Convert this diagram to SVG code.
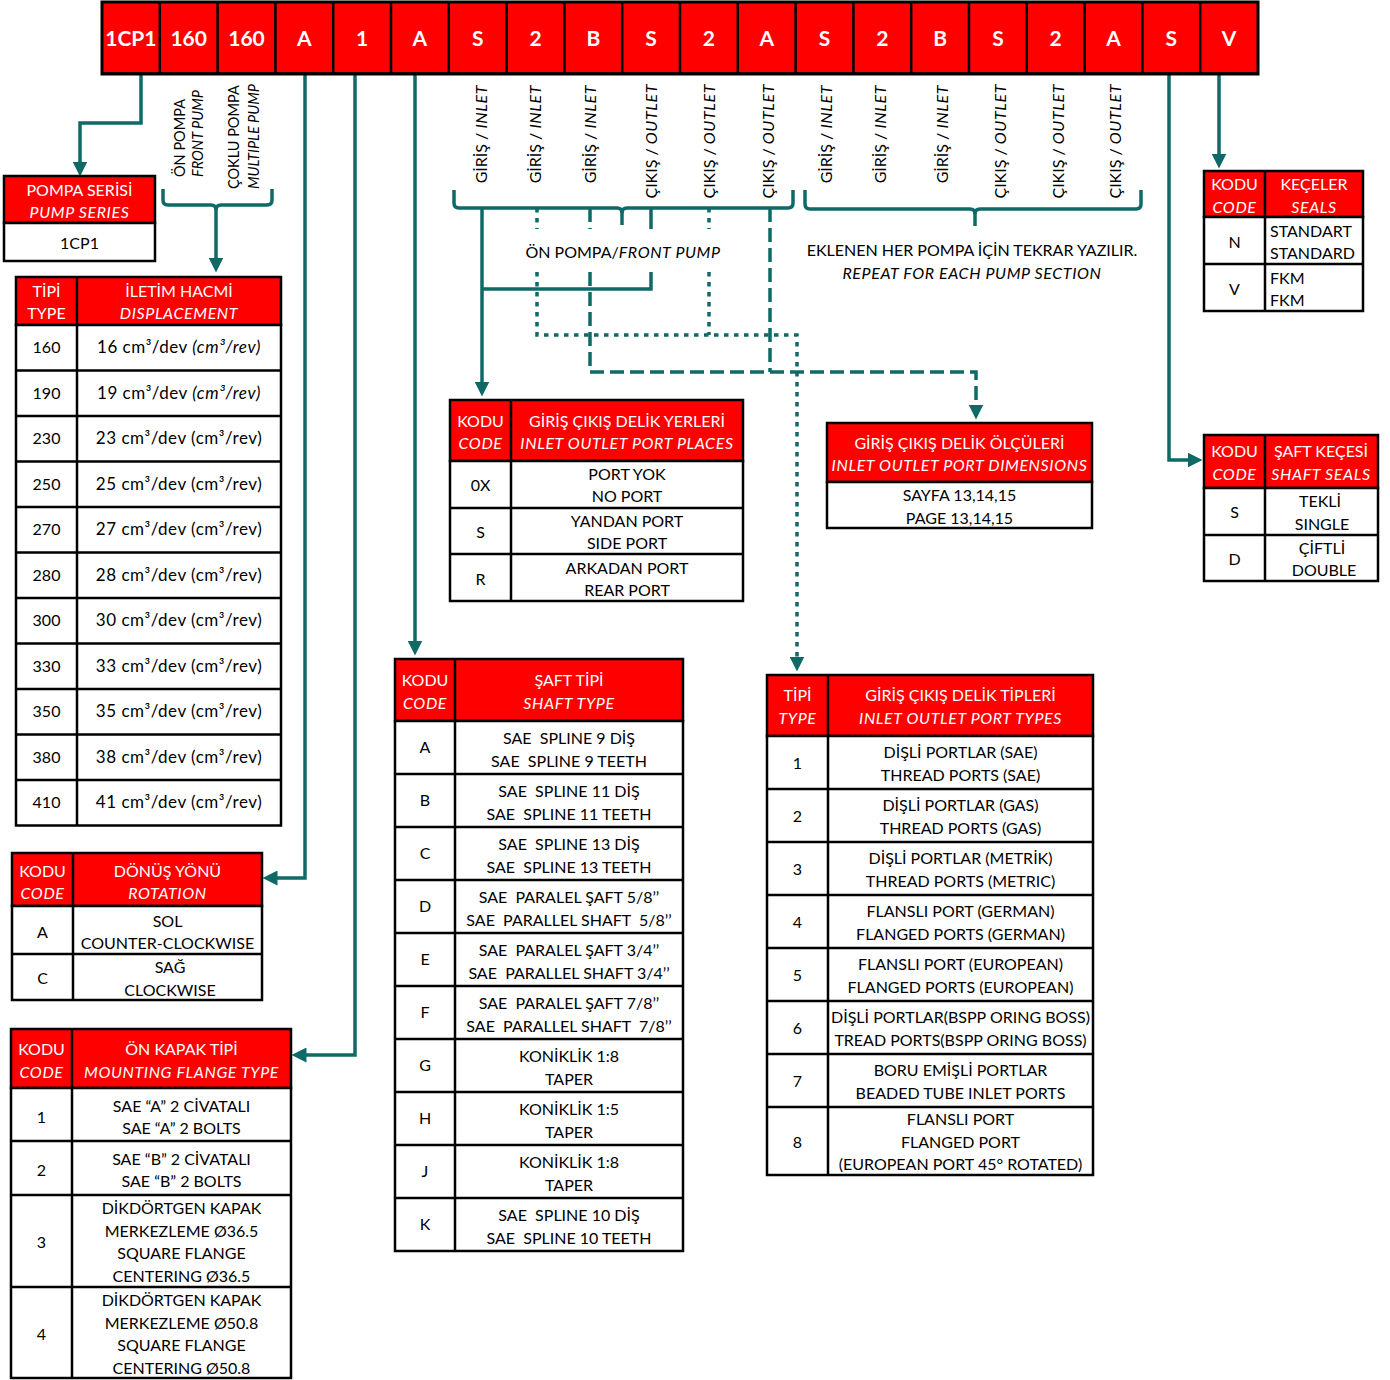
<svg xmlns="http://www.w3.org/2000/svg" width="1390" height="1380" viewBox="0 0 1390 1380">
<style>
.t{font-family:Lato,"Noto Sans","Liberation Sans",sans-serif;font-size:16px;text-anchor:middle;fill:#000}
.w{fill:#fff}
.i{font-style:italic;letter-spacing:0.6px}
.l{text-anchor:start}
.rs{font-size:14.5px;letter-spacing:0}
.bar{font-weight:bold;font-size:21px;fill:#fff}
.pre{white-space:pre}
.dsp{font-size:17px;letter-spacing:0.5px}
.hdr{fill:#ff0000;stroke:#000;stroke-width:2.5}
.bod{fill:#fff;stroke:#000;stroke-width:2.5}
.ln{fill:none;stroke:#000;stroke-width:2.5}
.c{fill:none;stroke:#0e6a66;stroke-width:3.5}
.dot{stroke-dasharray:4.5 5.5}
.dash{stroke-dasharray:14 6}
</style>
<defs>
<marker id="ah" viewBox="0 0 10 10" refX="7" refY="5" markerWidth="15" markerHeight="15" markerUnits="userSpaceOnUse" orient="auto">
<path d="M0,0L10,5L0,10z" fill="#0e6a66"/>
</marker>
</defs>
<rect width="1390" height="1380" fill="#fff"/>

<g id="connectors">
<path class="c" d="M141,74V123H80V172" marker-end="url(#ah)"/>
<path class="c" d="M163,189v11q0,5 5,5h43q5,0 5,5q0,-5 5,-5h46q5,0 5,-5v-11"/>
<path class="c" d="M216,205V268" marker-end="url(#ah)"/>
<path class="c" d="M454,190v13q0,5 5,5h158q5,0 5,5q0,-5 5,-5h161q5,0 5,-5v-13"/>
<path class="c" d="M622,208V225"/>
<path class="c" d="M805,190v14q0,5 5,5h160q5,0 5,5q0,-5 5,-5h156q5,0 5,-5v-14"/>
<path class="c" d="M975,209V226"/>
<path class="c" d="M482,208V392" marker-end="url(#ah)"/>
<path class="c" d="M651,208V229M651,272V289H482"/>
<path class="c dot" d="M537,208V229M709,208V229M709,272V335"/>
<path class="c dot" d="M537,272V335H797V667" marker-end="url(#ah)"/>
<path class="c dash" d="M590,208V229M770,208V372"/>
<path class="c dash" d="M590,272V372H976V415" marker-end="url(#ah)"/>
<path class="c" d="M305,74V878H267" marker-end="url(#ah)"/>
<path class="c" d="M355,74V1055H296" marker-end="url(#ah)"/>
<path class="c" d="M415,74V651" marker-end="url(#ah)"/>
<path class="c" d="M1169,74V460H1198" marker-end="url(#ah)"/>
<path class="c" d="M1219,74V164" marker-end="url(#ah)"/>
</g>

<g id="code-bar">
<rect x="102" y="2" width="1156" height="72" fill="#ff0000" stroke="#000" stroke-width="3"/>
<path class="ln" stroke-width="3" d="M159.8,2V74M217.6,2V74M275.4,2V74M333.2,2V74M391,2V74M448.8,2V74M506.6,2V74M564.4,2V74M622.2,2V74M680,2V74M737.8,2V74M795.6,2V74M853.4,2V74M911.2,2V74M969,2V74M1026.8,2V74M1084.6,2V74M1142.4,2V74M1200.2,2V74"/>
<path class="ln" stroke-width="4" d="M101,73.5H1259"/>
<text class="t bar" x="130.9" y="46">1CP1</text>
<text class="t bar" x="188.7" y="46">160</text>
<text class="t bar" x="246.5" y="46">160</text>
<text class="t bar" x="304.3" y="46">A</text>
<text class="t bar" x="362.1" y="46">1</text>
<text class="t bar" x="419.9" y="46">A</text>
<text class="t bar" x="477.7" y="46">S</text>
<text class="t bar" x="535.5" y="46">2</text>
<text class="t bar" x="593.3" y="46">B</text>
<text class="t bar" x="651.1" y="46">S</text>
<text class="t bar" x="708.9" y="46">2</text>
<text class="t bar" x="766.7" y="46">A</text>
<text class="t bar" x="824.5" y="46">S</text>
<text class="t bar" x="882.3" y="46">2</text>
<text class="t bar" x="940.1" y="46">B</text>
<text class="t bar" x="997.9" y="46">S</text>
<text class="t bar" x="1055.7" y="46">2</text>
<text class="t bar" x="1113.5" y="46">A</text>
<text class="t bar" x="1171.3" y="46">S</text>
<text class="t bar" x="1229.1" y="46">V</text>
</g>

<g id="bar-labels">
<text class="t l rs" transform="translate(185,177) rotate(-90)">ÖN POMPA</text>
<text class="t l i rs" transform="translate(203,177) rotate(-90)">FRONT PUMP</text>
<text class="t l rs" transform="translate(239,189) rotate(-90)">ÇOKLU POMPA</text>
<text class="t l i rs" transform="translate(259,189) rotate(-90)">MULTIPLE PUMP</text>
<text class="t" style="text-anchor:end" transform="translate(487,85) rotate(-90)">GİRİŞ / <tspan class="i">INLET</tspan></text>
<text class="t" style="text-anchor:end" transform="translate(541,85) rotate(-90)">GİRİŞ / <tspan class="i">INLET</tspan></text>
<text class="t" style="text-anchor:end" transform="translate(596,85) rotate(-90)">GİRİŞ / <tspan class="i">INLET</tspan></text>
<text class="t" style="text-anchor:end" transform="translate(657,84) rotate(-90)">ÇIKIŞ / <tspan class="i">OUTLET</tspan></text>
<text class="t" style="text-anchor:end" transform="translate(715,84) rotate(-90)">ÇIKIŞ / <tspan class="i">OUTLET</tspan></text>
<text class="t" style="text-anchor:end" transform="translate(774,84) rotate(-90)">ÇIKIŞ / <tspan class="i">OUTLET</tspan></text>
<text class="t" style="text-anchor:end" transform="translate(832,85) rotate(-90)">GİRİŞ / <tspan class="i">INLET</tspan></text>
<text class="t" style="text-anchor:end" transform="translate(886,85) rotate(-90)">GİRİŞ / <tspan class="i">INLET</tspan></text>
<text class="t" style="text-anchor:end" transform="translate(948,85) rotate(-90)">GİRİŞ / <tspan class="i">INLET</tspan></text>
<text class="t" style="text-anchor:end" transform="translate(1006,84) rotate(-90)">ÇIKIŞ / <tspan class="i">OUTLET</tspan></text>
<text class="t" style="text-anchor:end" transform="translate(1064,84) rotate(-90)">ÇIKIŞ / <tspan class="i">OUTLET</tspan></text>
<text class="t" style="text-anchor:end" transform="translate(1121,84) rotate(-90)">ÇIKIŞ / <tspan class="i">OUTLET</tspan></text>
<text class="t" x="623" y="257.5">ÖN POMPA/<tspan class="i">FRONT PUMP</tspan></text>
<text class="t" x="972" y="255.5">EKLENEN HER POMPA İÇİN TEKRAR YAZILIR.</text>
<text class="t i" x="972" y="278.5">REPEAT FOR EACH PUMP SECTION</text>
</g>

<g id="pump-series">
<rect class="hdr" x="4" y="176" width="151" height="47"/>
<rect class="bod" x="4" y="223" width="151" height="38"/>
<text class="t w" x="79.5" y="195.5">POMPA SERİSİ</text>
<text class="t w i" x="79.5" y="217.5">PUMP SERIES</text>
<text class="t" x="79.5" y="248.5">1CP1</text>
</g>

<g id="displacement">
<rect class="hdr" x="16" y="277" width="265" height="48"/>
<rect class="bod" x="16" y="325" width="265" height="500.5"/>
<path class="ln" d="M77,277V825.5M16,370.5H281M16,416H281M16,461.5H281M16,507H281M16,552.5H281M16,598H281M16,643.5H281M16,689H281M16,734.5H281M16,780H281"/>
<text class="t w" x="46.5" y="296.5">TİPİ</text>
<text class="t w" x="46.5" y="318.5">TYPE</text>
<text class="t w" x="179" y="296.5">İLETİM HACMİ</text>
<text class="t w i" x="179" y="318.5">DISPLACEMENT</text>
<text class="t" x="46.5" y="353.2">160</text><text class="t dsp" x="179" y="353.2">16 cm³/dev <tspan class="i">(cm³/rev)</tspan></text>
<text class="t" x="46.5" y="398.7">190</text><text class="t dsp" x="179" y="398.7">19 cm³/dev <tspan class="i">(cm³/rev)</tspan></text>
<text class="t" x="46.5" y="444.2">230</text><text class="t dsp" x="179" y="444.2">23 cm³/dev (cm³/rev)</text>
<text class="t" x="46.5" y="489.7">250</text><text class="t dsp" x="179" y="489.7">25 cm³/dev (cm³/rev)</text>
<text class="t" x="46.5" y="535.2">270</text><text class="t dsp" x="179" y="535.2">27 cm³/dev (cm³/rev)</text>
<text class="t" x="46.5" y="580.7">280</text><text class="t dsp" x="179" y="580.7">28 cm³/dev (cm³/rev)</text>
<text class="t" x="46.5" y="626.2">300</text><text class="t dsp" x="179" y="626.2">30 cm³/dev (cm³/rev)</text>
<text class="t" x="46.5" y="671.7">330</text><text class="t dsp" x="179" y="671.7">33 cm³/dev (cm³/rev)</text>
<text class="t" x="46.5" y="717.2">350</text><text class="t dsp" x="179" y="717.2">35 cm³/dev (cm³/rev)</text>
<text class="t" x="46.5" y="762.7">380</text><text class="t dsp" x="179" y="762.7">38 cm³/dev (cm³/rev)</text>
<text class="t" x="46.5" y="808.2">410</text><text class="t dsp" x="179" y="808.2">41 cm³/dev (cm³/rev)</text>
</g>

<g id="rotation">
<rect class="hdr" x="12" y="853" width="250" height="53"/>
<rect class="bod" x="12" y="906" width="250" height="94"/>
<path class="ln" d="M73,853V1000M12,954H262"/>
<text class="t w" x="42.5" y="876.5">KODU</text>
<text class="t w i" x="42.5" y="898.5">CODE</text>
<text class="t w" x="167.5" y="876.5">DÖNÜŞ YÖNÜ</text>
<text class="t w i" x="167.5" y="898.5">ROTATION</text>
<text class="t" x="42.5" y="937.5">A</text>
<text class="t" x="167.5" y="926.5">SOL</text>
<text class="t" x="167.5" y="948.5">COUNTER-CLOCKWISE</text>
<text class="t" x="42.5" y="983.5">C</text>
<text class="t" x="170" y="972.5">SAĞ</text>
<text class="t" x="170" y="995.5">CLOCKWISE</text>
</g>

<g id="mounting-flange">
<rect class="hdr" x="11" y="1029" width="280" height="59"/>
<rect class="bod" x="11" y="1088" width="280" height="290"/>
<path class="ln" d="M72,1029V1378M11,1141H291M11,1195H291M11,1287H291"/>
<text class="t w" x="41.5" y="1054.5">KODU</text>
<text class="t w i" x="41.5" y="1077.5">CODE</text>
<text class="t w" x="181.5" y="1054.5">ÖN KAPAK TİPİ</text>
<text class="t w i" x="181.5" y="1077.5">MOUNTING FLANGE TYPE</text>
<text class="t" x="41.5" y="1122.5">1</text>
<text class="t" x="181.5" y="1111.5">SAE “A” 2 CİVATALI</text>
<text class="t" x="181.5" y="1133.5">SAE “A” 2 BOLTS</text>
<text class="t" x="41.5" y="1175.5">2</text>
<text class="t" x="181.5" y="1164.5">SAE “B” 2 CİVATALI</text>
<text class="t" x="181.5" y="1186.5">SAE “B” 2 BOLTS</text>
<text class="t" x="41.5" y="1247.5">3</text>
<text class="t" x="181.5" y="1213.5">DİKDÖRTGEN KAPAK</text>
<text class="t" x="181.5" y="1236.5">MERKEZLEME Ø36.5</text>
<text class="t" x="181.5" y="1258.5">SQUARE FLANGE</text>
<text class="t" x="181.5" y="1281.5">CENTERING Ø36.5</text>
<text class="t" x="41.5" y="1339.5">4</text>
<text class="t" x="181.5" y="1305.5">DİKDÖRTGEN KAPAK</text>
<text class="t" x="181.5" y="1328.5">MERKEZLEME Ø50.8</text>
<text class="t" x="181.5" y="1350.5">SQUARE FLANGE</text>
<text class="t" x="181.5" y="1373.5">CENTERING Ø50.8</text>
</g>

<g id="shaft-type">
<rect class="hdr" x="395" y="659" width="288" height="62"/>
<rect class="bod" x="395" y="721" width="288" height="530"/>
<path class="ln" d="M455,659V1251M395,774H683M395,827H683M395,880H683M395,933H683M395,986H683M395,1039H683M395,1092H683M395,1145H683M395,1198H683"/>
<text class="t w" x="425" y="685.5">KODU</text>
<text class="t w i" x="425" y="708.5">CODE</text>
<text class="t w" x="569" y="685.5">ŞAFT TİPİ</text>
<text class="t w i" x="569" y="708.5">SHAFT TYPE</text>
<text class="t" x="425" y="753">A</text>
<text class="t pre" x="569" y="743.5">SAE  SPLINE 9 DİŞ</text>
<text class="t pre" x="569" y="766.5">SAE  SPLINE 9 TEETH</text>
<text class="t" x="425" y="806">B</text>
<text class="t pre" x="569" y="796.5">SAE  SPLINE 11 DİŞ</text>
<text class="t pre" x="569" y="819.5">SAE  SPLINE 11 TEETH</text>
<text class="t" x="425" y="859">C</text>
<text class="t pre" x="569" y="849.5">SAE  SPLINE 13 DİŞ</text>
<text class="t pre" x="569" y="872.5">SAE  SPLINE 13 TEETH</text>
<text class="t" x="425" y="912">D</text>
<text class="t pre" x="569" y="902.5">SAE  PARALEL ŞAFT 5/8’’</text>
<text class="t pre" x="569" y="925.5">SAE  PARALLEL SHAFT  5/8’’</text>
<text class="t" x="425" y="965">E</text>
<text class="t pre" x="569" y="955.5">SAE  PARALEL ŞAFT 3/4’’</text>
<text class="t pre" x="569" y="978.5">SAE  PARALLEL SHAFT 3/4’’</text>
<text class="t" x="425" y="1018">F</text>
<text class="t pre" x="569" y="1008.5">SAE  PARALEL ŞAFT 7/8’’</text>
<text class="t pre" x="569" y="1031.5">SAE  PARALLEL SHAFT  7/8’’</text>
<text class="t" x="425" y="1071">G</text>
<text class="t" x="569" y="1061.5">KONİKLİK 1:8</text>
<text class="t" x="569" y="1084.5">TAPER</text>
<text class="t" x="425" y="1124">H</text>
<text class="t" x="569" y="1114.5">KONİKLİK 1:5</text>
<text class="t" x="569" y="1137.5">TAPER</text>
<text class="t" x="425" y="1177">J</text>
<text class="t" x="569" y="1167.5">KONİKLİK 1:8</text>
<text class="t" x="569" y="1190.5">TAPER</text>
<text class="t" x="425" y="1230">K</text>
<text class="t pre" x="569" y="1220.5">SAE  SPLINE 10 DİŞ</text>
<text class="t pre" x="569" y="1243.5">SAE  SPLINE 10 TEETH</text>
</g>

<g id="port-places">
<rect class="hdr" x="450" y="400" width="293" height="61"/>
<rect class="bod" x="450" y="461" width="293" height="140"/>
<path class="ln" d="M511,400V601M450,508H743M450,554H743"/>
<text class="t w" x="480.5" y="426.5">KODU</text>
<text class="t w i" x="480.5" y="448.5">CODE</text>
<text class="t w" x="627" y="426.5">GİRİŞ ÇIKIŞ DELİK YERLERİ</text>
<text class="t w i" x="627" y="448.5">INLET OUTLET PORT PLACES</text>
<text class="t" x="480.5" y="490.5">0X</text>
<text class="t" x="627" y="479.5">PORT YOK</text>
<text class="t" x="627" y="501.5">NO PORT</text>
<text class="t" x="480.5" y="537.5">S</text>
<text class="t" x="627" y="526.5">YANDAN PORT</text>
<text class="t" x="627" y="548.5">SIDE PORT</text>
<text class="t" x="480.5" y="584.5">R</text>
<text class="t" x="627" y="573.5">ARKADAN PORT</text>
<text class="t" x="627" y="595.5">REAR PORT</text>
</g>

<g id="port-dimensions">
<rect class="hdr" x="827" y="423" width="265" height="59"/>
<rect class="bod" x="827" y="482" width="265" height="46"/>
<text class="t w" x="959.5" y="448.5">GİRİŞ ÇIKIŞ DELİK ÖLÇÜLERİ</text>
<text class="t w i" x="959.5" y="470.5">INLET OUTLET PORT DIMENSIONS</text>
<text class="t" x="959.5" y="500.5">SAYFA 13,14,15</text>
<text class="t" x="959.5" y="523.5">PAGE 13,14,15</text>
</g>

<g id="port-types">
<rect class="hdr" x="767" y="675" width="326" height="61"/>
<rect class="bod" x="767" y="736" width="326" height="439"/>
<path class="ln" d="M828,675V1175M767,789H1093M767,842H1093M767,895H1093M767,948H1093M767,1001H1093M767,1054H1093M767,1107H1093"/>
<text class="t w" x="797.5" y="700.5">TİPİ</text>
<text class="t w i" x="797.5" y="723.5">TYPE</text>
<text class="t w" x="960.5" y="700.5">GİRİŞ ÇIKIŞ DELİK TİPLERİ</text>
<text class="t w i" x="960.5" y="723.5">INLET OUTLET PORT TYPES</text>
<text class="t" x="797.5" y="768.5">1</text>
<text class="t" x="960.5" y="757.5">DİŞLİ PORTLAR (SAE)</text>
<text class="t" x="960.5" y="780.5">THREAD PORTS (SAE)</text>
<text class="t" x="797.5" y="821.5">2</text>
<text class="t" x="960.5" y="810.5">DİŞLİ PORTLAR (GAS)</text>
<text class="t" x="960.5" y="833.5">THREAD PORTS (GAS)</text>
<text class="t" x="797.5" y="874.5">3</text>
<text class="t" x="960.5" y="863.5">DİŞLİ PORTLAR (METRİK)</text>
<text class="t" x="960.5" y="886.5">THREAD PORTS (METRIC)</text>
<text class="t" x="797.5" y="927.5">4</text>
<text class="t" x="960.5" y="916.5">FLANSLI PORT (GERMAN)</text>
<text class="t" x="960.5" y="939.5">FLANGED PORTS (GERMAN)</text>
<text class="t" x="797.5" y="980.5">5</text>
<text class="t" x="960.5" y="969.5">FLANSLI PORT (EUROPEAN)</text>
<text class="t" x="960.5" y="992.5">FLANGED PORTS (EUROPEAN)</text>
<text class="t" x="797.5" y="1033.5">6</text>
<text class="t" x="960.5" y="1022.5">DİŞLİ PORTLAR(BSPP ORING BOSS)</text>
<text class="t" x="960.5" y="1045.5">TREAD PORTS(BSPP ORING BOSS)</text>
<text class="t" x="797.5" y="1086.5">7</text>
<text class="t" x="960.5" y="1075.5">BORU EMİŞLİ PORTLAR</text>
<text class="t" x="960.5" y="1098.5">BEADED TUBE INLET PORTS</text>
<text class="t" x="797.5" y="1147.5">8</text>
<text class="t" x="960.5" y="1124.5">FLANSLI PORT</text>
<text class="t" x="960.5" y="1147.5">FLANGED PORT</text>
<text class="t" x="960.5" y="1169.5">(EUROPEAN PORT 45° ROTATED)</text>
</g>

<g id="seals">
<rect class="hdr" x="1204" y="171" width="159" height="46"/>
<rect class="bod" x="1204" y="217" width="159" height="94"/>
<path class="ln" d="M1265,171V311M1204,264H1363"/>
<text class="t w" x="1234.5" y="189.5">KODU</text>
<text class="t w i" x="1234.5" y="212.5">CODE</text>
<text class="t w" x="1314" y="189.5">KEÇELER</text>
<text class="t w i" x="1314" y="212.5">SEALS</text>
<text class="t" x="1234.5" y="247.5">N</text>
<text class="t l" x="1270" y="236.5">STANDART</text>
<text class="t l" x="1270" y="258.5">STANDARD</text>
<text class="t" x="1234.5" y="294.5">V</text>
<text class="t l" x="1270" y="283.5">FKM</text>
<text class="t l" x="1270" y="305.5">FKM</text>
</g>

<g id="shaft-seals">
<rect class="hdr" x="1204" y="435" width="174" height="53"/>
<rect class="bod" x="1204" y="488" width="174" height="93"/>
<path class="ln" d="M1265,435V581M1204,535H1378"/>
<text class="t w" x="1234.5" y="456.5">KODU</text>
<text class="t w i" x="1234.5" y="479.5">CODE</text>
<text class="t w" x="1321" y="456.5">ŞAFT KEÇESİ</text>
<text class="t w i" x="1321" y="479.5">SHAFT SEALS</text>
<text class="t" x="1234.5" y="517.5">S</text>
<text class="t" x="1320" y="506.5">TEKLİ</text>
<text class="t" x="1322" y="529.5">SINGLE</text>
<text class="t" x="1234.5" y="564.5">D</text>
<text class="t" x="1322" y="553.5">ÇİFTLİ</text>
<text class="t" x="1324" y="575.5">DOUBLE</text>
</g>
</svg>
